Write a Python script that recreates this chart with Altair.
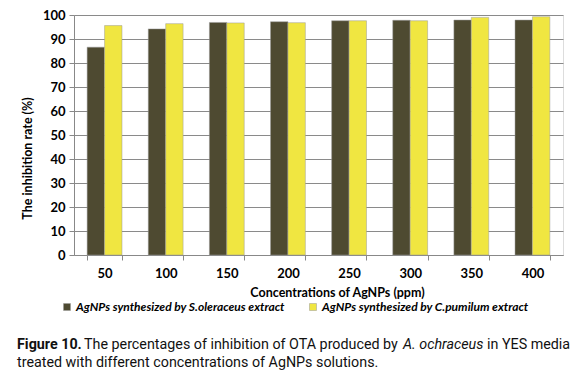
import altair as alt
import pandas as pd

concentrations = ["50", "100", "150", "200", "250", "300", "350", "400"]
s_oleraceus = [86.6, 94.2, 96.9, 97.2, 97.6, 97.8, 97.9, 97.9]
c_pumilum = [95.6, 96.4, 96.7, 96.8, 97.6, 97.6, 99.0, 99.3]
series_names = ["AgNPs synthesized by S.oleraceus extract",
                "AgNPs synthesized by C.pumilum  extract"]
colors = ["#4E4A31", "#F0E641"]

rows = []
for c, a, b in zip(concentrations, s_oleraceus, c_pumilum):
    rows.append({"conc": c, "series": series_names[0], "value": a})
    rows.append({"conc": c, "series": series_names[1], "value": b})
df = pd.DataFrame(rows)

W, H = 489, 240
AXF = "Lato"
CAPF = "Roboto, sans-serif"

bars = alt.Chart(df).mark_bar(stroke="#9a9a9a", strokeWidth=0.5).encode(
    x=alt.X("conc:N", sort=concentrations,
            scale=alt.Scale(paddingInner=0.43, paddingOuter=0.215),
            axis=alt.Axis(title="Concentrations of AgNPs (ppm)", labelAngle=0,
                          tickBand="extent", tickSize=5, tickColor="#888888",
                          domainColor="#888888", labelFont=AXF, labelFontWeight="bold",
                          labelFontSize=13, labelColor="#000000", labelPadding=7,
                          titleFont=AXF, titleFontWeight="bold", titleFontSize=12.5,
                          titleColor="#000000", titlePadding=6, titleX=263)),
    xOffset=alt.XOffset("series:N", sort=series_names),
    y=alt.Y("value:Q", scale=alt.Scale(domain=[0, 100], nice=False),
            axis=alt.Axis(title="The inhibition rate (%)", values=list(range(0, 101, 10)),
                          tickSize=5, tickColor="#888888", domainColor="#888888",
                          gridColor="#8a8a8a", gridWidth=1,
                          labelFont=AXF, labelFontWeight="bold", labelFontSize=13,
                          labelColor="#000000", labelPadding=4,
                          titleFont=AXF, titleFontWeight="bold", titleFontSize=12.5,
                          titleColor="#000000", titleX=-40, titleY=143)),
    color=alt.Color("series:N", sort=series_names,
                    scale=alt.Scale(domain=series_names, range=colors),
                    legend=alt.Legend(title=None, orient="none", legendX=-13, legendY=286,
                                      direction="horizontal", columns=2,
                                      symbolType="square", symbolSize=49,
                                      symbolStrokeColor="#999999", symbolStrokeWidth=0.5,
                                      labelFont=AXF, labelFontWeight="bold",
                                      labelFontStyle="italic", labelFontSize=12,
                                      labelColor="#000000", labelOffset=3,
                                      columnPadding=22, labelLimit=400)),
)

cap = pd.DataFrame({"d": [0]})

def seg(text, x, y, weight="normal", style="normal"):
    return alt.Chart(cap).mark_text(
        text=text, align="left", baseline="alphabetic", font=CAPF,
        fontSize=14.3, fontWeight=weight, fontStyle=style, color="#111111"
    ).encode(x=alt.value(x), y=alt.value(y))

captions = [
    seg("Figure 10.", -57, 334, weight="bold"),
    seg("The percentages of inhibition of OTA produced by", 10, 334),
    seg("A. ochraceus", 329, 334, style="italic"),
    seg("in YES media", 413, 334),
    seg("treated with different concentrations of AgNPs solutions.", -57, 352),
]

chart = alt.layer(bars, *captions).properties(
    width=W, height=H,
    autosize=alt.AutoSizeParams(type="none"),
    padding={"left": 66, "top": 7, "right": 8, "bottom": 120},
).configure_view(stroke=None).configure(background="#ffffff")

chart.save("out.html", embed_options={"renderer": "svg", "actions": False})
